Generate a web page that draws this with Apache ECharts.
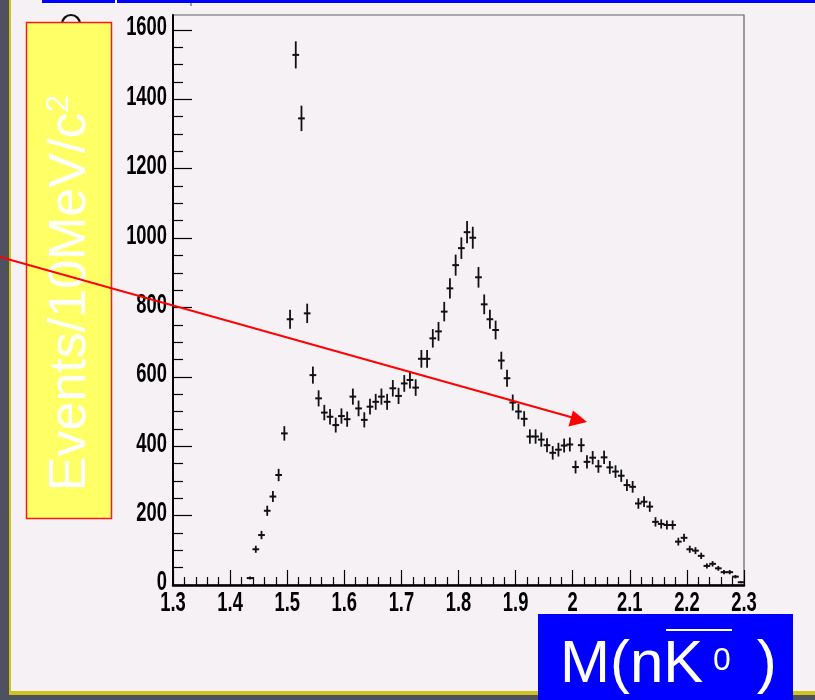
<!DOCTYPE html>
<html>
<head>
<meta charset="utf-8">
<script src="https://cdn.jsdelivr.net/npm/echarts@6/dist/echarts.min.js"></script>
<style>
html,body{margin:0;padding:0;background:#4e5160;}
#chart{width:815px;height:700px;}
</style>
</head>
<body>
<div id="chart"></div>
<script>
// Bin centres (GeV/c^2), 10 MeV bins
const massBins = [
  1.435,1.445,1.455,1.465,1.475,1.485,1.495,1.505,1.515,1.525,
  1.535,1.545,1.555,1.565,1.575,1.585,1.595,1.605,1.615,1.625,
  1.635,1.645,1.655,1.665,1.675,1.685,1.695,1.705,1.715,1.725,
  1.735,1.745,1.755,1.765,1.775,1.785,1.795,1.805,1.815,1.825,
  1.835,1.845,1.855,1.865,1.875,1.885,1.895,1.905,1.915,1.925,
  1.935,1.945,1.955,1.965,1.975,1.985,1.995,2.005,2.015,2.025,
  2.035,2.045,2.055,2.065,2.075,2.085,2.095,2.105,2.115,2.125,
  2.135,2.145,2.155,2.165,2.175,2.185,2.195,2.205,2.215,2.225,
  2.235,2.245,2.255,2.265,2.275,2.285,2.295
];
// Events per bin
const events = [
  20,103,144,214,255,317,437,766,1528,1345,
  783,605,538,497,485,461,487,478,543,509,
  476,514,528,543,528,567,545,581,591,569,
  652,652,711,731,788,855,922,971,1017,1001,
  887,809,766,735,647,596,526,500,479,428,
  428,419,403,381,390,402,405,340,403,355,
  367,342,368,339,327,315,288,283,235,240,
  226,182,176,173,173,125,136,103,99,84,
  55,61,48,37,37,24,8
];
const xTickLabels = [1.3,1.4,1.5,1.6,1.7,1.8,1.9,2.0,2.1,2.2,2.3];
const yTickLabels = [0,200,400,600,800,1000,1200,1400,1600];
const binHalfWidth = 0.005;

const xMinor = [];
for (let i = 0; i <= 50; i++) { if (i % 5) xMinor.push(Math.round((1.3 + i * 0.02) * 1000) / 1000); }
const yMinor = [];
for (let v = 0; v <= 1600; v += 50) { if (v % 200) yMinor.push(v); }

const sansFont = "'Liberation Sans',Arial,sans-serif";
const chart = echarts.init(document.getElementById('chart'), null, {renderer: 'canvas'});
const pts = massBins.map((m, i) => [m, events[i]]);

function buildOption(labelGraphics) {
  return {
    backgroundColor: '#4e5160',
    animation: false,
    grid: {left: 173, right: 71, top: 15, bottom: 115, show: true, borderColor: '#606060', borderWidth: 1.2, backgroundColor: 'transparent', containLabel: false},
    xAxis: [
      {
        type: 'value', min: 1.3, max: 2.3, interval: 0.1, position: 'bottom',
        axisLine: {show: true, onZero: false, lineStyle: {color: '#000', width: 2.5}},
        axisTick: {show: true, inside: true, length: 15, customValues: xTickLabels, lineStyle: {color: '#000', width: 1.2}},
        axisLabel: {show: false},
        splitLine: {show: false}
      },
      {
        type: 'value', min: 1.3, max: 2.3, interval: 0.1, position: 'bottom', gridIndex: 0,
        axisLine: {show: false, onZero: false},
        axisTick: {show: true, inside: true, length: 8, customValues: xMinor, lineStyle: {color: '#000', width: 1.2}},
        axisLabel: {show: false}, splitLine: {show: false}
      }
    ],
    yAxis: [
      {
        type: 'value', min: 0, max: 1643, interval: 200, position: 'left',
        axisLine: {show: true, onZero: false, lineStyle: {color: '#000', width: 2}},
        axisTick: {show: true, inside: true, length: 19, customValues: yTickLabels, lineStyle: {color: '#000', width: 1.2}},
        axisLabel: {show: false},
        splitLine: {show: false}
      },
      {
        type: 'value', min: 0, max: 1643, interval: 200, position: 'left', gridIndex: 0,
        axisLine: {show: false, onZero: false},
        axisTick: {show: true, inside: true, length: 10, customValues: yMinor, lineStyle: {color: '#000', width: 1.2}},
        axisLabel: {show: false}, splitLine: {show: false}
      }
    ],
    series: [{
      type: 'custom',
      xAxisIndex: 0, yAxisIndex: 0,
      data: pts,
      clip: false,
      z: 5,
      renderItem: function (params, api) {
        const x = api.value(0), y = api.value(1), e = Math.sqrt(y);
        const a = api.coord([x - binHalfWidth, y]), b = api.coord([x + binHalfWidth, y]);
        const c = api.coord([x, y - e]), d = api.coord([x, y + e]);
        return {
          type: 'group',
          children: [
            {type: 'line', shape: {x1: a[0] - 0.5, y1: a[1], x2: b[0] + 0.5, y2: b[1]}, style: {stroke: '#111', lineWidth: 2}},
            {type: 'line', shape: {x1: c[0], y1: c[1], x2: d[0], y2: d[1]}, style: {stroke: '#111', lineWidth: 1.8}}
          ]
        };
      }
    }],
    graphic: [
      // slide panels
      {type: 'rect', z: -20, silent: true, shape: {x: 9, y: 0, width: 806, height: 695}, style: {fill: '#cfc21a'}},
      {type: 'rect', z: -19, silent: true, shape: {x: 11, y: 0, width: 804, height: 691}, style: {fill: '#f5f1f5'}},
      // top blue bar
      {type: 'rect', z: -18, silent: true, shape: {x: 42, y: 0, width: 773, height: 3}, style: {fill: '#0000ff'}},
      {type: 'rect', z: -17, silent: true, shape: {x: 115, y: 0, width: 2, height: 4}, style: {fill: '#ffffff'}},
      {type: 'line', z: -17, silent: true, shape: {x1: 191, y1: 3, x2: 191, y2: 6}, style: {stroke: '#444', lineWidth: 1}},
      // small hidden glyph top
      {type: 'arc', z: 50, silent: true, shape: {cx: 71, cy: 24, r: 9, startAngle: Math.PI, endAngle: 2 * Math.PI}, style: {stroke: '#111', lineWidth: 2.2, fill: null}},
      // yellow y-title box
      {type: 'rect', z: 60, silent: true, shape: {x: 26.5, y: 22.5, width: 85, height: 496}, style: {fill: '#ffff66', stroke: '#ff1a1a', lineWidth: 1.5}},
      {type: 'text', z: 61, silent: true, x: 71, y: 293, rotation: Math.PI / 2,
        style: {text: '{a|Events/10MeV/c}{s|2}', align: 'center', verticalAlign: 'middle',
          rich: {a: {fontSize: 52, fontFamily: sansFont, fill: '#ffffff', lineHeight: 56},
                 s: {fontSize: 32, fontFamily: sansFont, fill: '#ffffff', verticalAlign: 'top', lineHeight: 56}}}},
      // blue x-title box
      {type: 'rect', z: 60, silent: true, shape: {x: 538, y: 614, width: 255, height: 86}, style: {fill: '#0000ff'}},
      {type: 'text', z: 61, silent: true, x: 560, y: 695, style: {text: 'M(nK', fontSize: 60, fontFamily: sansFont, fill: '#ffffff', align: 'left', verticalAlign: 'bottom'}},
      {type: 'text', z: 61, silent: true, x: 713, y: 645, style: {text: '0', fontSize: 32, fontFamily: sansFont, fill: '#ffffff', align: 'left', verticalAlign: 'top'}},
      {type: 'text', z: 61, silent: true, x: 740, y: 695, style: {text: ' )', fontSize: 60, fontFamily: sansFont, fill: '#ffffff', align: 'left', verticalAlign: 'bottom'}},
      {type: 'line', z: 61, silent: true, shape: {x1: 666, y1: 630, x2: 732, y2: 630}, style: {stroke: '#ffffff', lineWidth: 2}},
      // red arrow
      {type: 'line', z: 80, silent: true, shape: {x1: 0, y1: 257, x2: 576, y2: 418.5}, style: {stroke: '#ff0000', lineWidth: 2}},
      {type: 'polygon', z: 80, silent: true, shape: {points: [[587, 422], [573, 410.5], [568.5, 426.5]]}, style: {fill: '#ff0000'}}
    ].concat(labelGraphics)
  };
}

chart.setOption(buildOption([]));

// Tick labels (narrow bold ROOT style), positioned through the axes' own scales
const labelStyle = {fontSize: 27, fontWeight: 'bold', fontFamily: sansFont, fill: '#000'};
const labels = [];
const yAxisX = chart.convertToPixel({xAxisIndex: 0}, 1.3);
const xAxisY = chart.convertToPixel({yAxisIndex: 0}, 0);
yTickLabels.forEach(v => {
  const py = chart.convertToPixel({yAxisIndex: 0}, v);
  labels.push({type: 'text', z: 40, silent: true, x: yAxisX - 6, y: py - 2, scaleX: 0.68,
    style: Object.assign({text: String(v), align: 'right', verticalAlign: 'middle'}, labelStyle)});
});
xTickLabels.forEach(v => {
  const px = chart.convertToPixel({xAxisIndex: 0}, v);
  labels.push({type: 'text', z: 40, silent: true, x: px, y: xAxisY + 19, scaleX: 0.68,
    style: Object.assign({text: String(Math.round(v * 10) / 10), align: 'center', verticalAlign: 'middle'}, labelStyle)});
});
chart.setOption(buildOption(labels), true);
</script>
</body>
</html>
